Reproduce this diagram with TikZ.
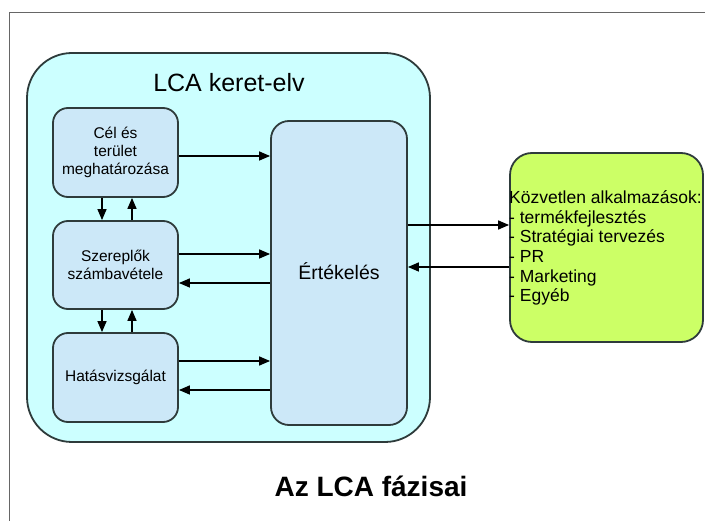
\documentclass[tikz,border=0pt]{standalone}
\usepackage{fontspec}
\setmainfont{Liberation Sans}
\usetikzlibrary{arrows.meta}
\definecolor{outerfill}{HTML}{CCFFFF}
\definecolor{innerfill}{HTML}{CCE8F8}
\definecolor{greenfill}{HTML}{CCFF66}
\definecolor{edge}{HTML}{2E3B3B}
\definecolor{framegray}{HTML}{666666}
\begin{document}
\begin{tikzpicture}[x=1pt,y=-1pt,
  box/.style={draw=edge,line width=1.8pt,rounded corners=15pt,fill=innerfill,
    minimum width=125pt,minimum height=89pt,inner sep=0pt,align=center,
    font=\fontsize{15.5}{18}\selectfont},
  arr/.style={draw=black,line width=1.5pt,-{Triangle[length=11pt,width=9pt]}}]
\useasboundingbox (0,0) rectangle (705,521);
\fill[white] (0,0) rectangle (705,521);
% slide frame
\draw[framegray,line width=1.5pt] (9.5,521) -- (9.5,12.5) -- (705,12.5);
% outer frame
\node[draw=edge,line width=1.8pt,rounded corners=45pt,fill=outerfill,
  minimum width=403pt,minimum height=389pt,inner sep=0pt] (outer) at (228.5,247.5) {};
\node[font=\fontsize{25}{30}\selectfont] (otitle) at (229,83) {LCA keret-elv};
% inner boxes
\node[box] (b1) at (115.5,152.5) {Cél és\\terület\\meghatározása};
\node[box,minimum height=88pt] (b2) at (115.5,265) {Szereplők\\számbavétele};
\node[box] (b3) at (115.5,377.5) {Hatásvizsgálat};
\node[box,minimum width=136pt,minimum height=304pt,rounded corners=18pt] (ev) at (339,273) {};
\node[font=\fontsize{19.5}{23}\selectfont] (evt) at (339,271) {Értékelés};
% green box
\node[draw=edge,line width=1.8pt,rounded corners=22pt,fill=greenfill,
  minimum width=193pt,minimum height=189pt,inner sep=0pt] (gr) at (606.5,247.5) {};
\node[anchor=west,inner sep=0pt,align=left,
  font=\fontsize{17.5}{19.6}\selectfont] (grt) at (509,248)
  {Közvetlen alkalmazások:\\- termékfejlesztés\\- Stratégiai tervezés\\- PR\\- Marketing\\- Egyéb};
% vertical arrows
\draw[arr] (b1.south -| 102,0) -- (b2.north -| 102,0);
\draw[arr] (b2.north -| 132,0) -- (b1.south -| 132,0);
\draw[arr] (b2.south -| 102,0) -- (b3.north -| 102,0);
\draw[arr] (b3.north -| 132,0) -- (b2.south -| 132,0);
% horizontal arrows
\draw[arr] (b1.east |- 0,156) -- (ev.west |- 0,156);
\draw[arr] (b2.east |- 0,254) -- (ev.west |- 0,254);
\draw[arr] (ev.west |- 0,283) -- (b2.east |- 0,283);
\draw[arr] (b3.east |- 0,361) -- (ev.west |- 0,361);
\draw[arr] (ev.west |- 0,390) -- (b3.east |- 0,390);
\draw[arr] (ev.east |- 0,225) -- (gr.west |- 0,225);
\draw[arr] (gr.west |- 0,267) -- (ev.east |- 0,267);
% title
\node[font=\bfseries\fontsize{28}{33}\selectfont] (title) at (371,486) {Az LCA fázisai};
\end{tikzpicture}
\end{document}
